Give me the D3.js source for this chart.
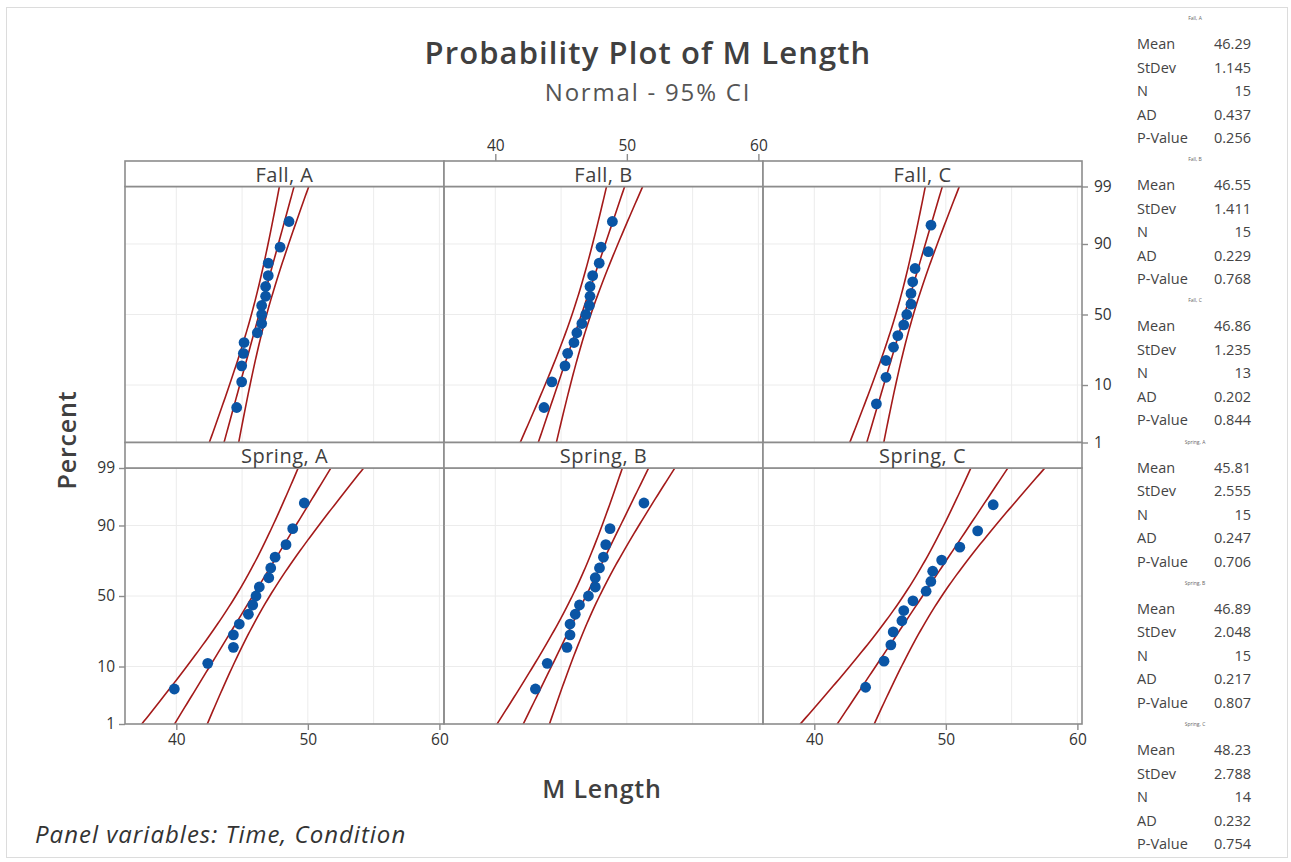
<!DOCTYPE html>
<html>
<head>
<meta charset="utf-8">
<script src="https://cdn.jsdelivr.net/npm/d3@7"></script>
<style>
body { margin: 0; background: #fff; }
text { font-family: "Open Sans", sans-serif; }
</style>
</head>
<body>
<svg id="chart" width="1291" height="862"></svg>
<script>
// panel variables
var times = ["Fall", "Spring"];
var conditions = ["A", "B", "C"];

var fallA = [44.59, 44.97, 44.97, 45.10, 45.15, 46.16, 46.49, 46.49, 46.49, 46.79, 46.79, 46.99, 46.99, 47.89, 48.57];
var fallB = [43.70, 44.30, 45.30, 45.50, 45.98, 46.20, 46.58, 46.88, 47.15, 47.20, 47.20, 47.40, 47.90, 48.04, 48.90];
var fallC = [44.72, 45.45, 45.45, 46.02, 46.35, 46.80, 47.03, 47.35, 47.35, 47.48, 47.66, 48.67, 48.87];
var springA = [39.85, 42.39, 44.34, 44.34, 44.79, 45.48, 45.81, 46.06, 46.31, 47.03, 47.18, 47.51, 48.34, 48.85, 49.73];
var springB = [43.05, 43.95, 45.45, 45.68, 45.68, 46.08, 46.40, 47.08, 47.60, 47.60, 47.92, 48.22, 48.40, 48.72, 51.30];
var springC = [43.90, 45.30, 45.82, 46.00, 46.66, 46.80, 47.50, 48.50, 48.86, 49.00, 49.68, 51.06, 52.42, 53.60];
var panelData = [fallA, fallB, fallC, springA, springB, springC];

// summary table
var means = [46.29, 46.55, 46.86, 45.81, 46.89, 48.23];
var stdevs = [1.145, 1.411, 1.235, 2.555, 2.048, 2.788];
var ns = [15, 15, 13, 15, 15, 14];
var ads = ["0.437", "0.229", "0.202", "0.247", "0.217", "0.232"];
var pvalues = ["0.256", "0.768", "0.844", "0.706", "0.807", "0.754"];
var statNames = ["Mean", "StDev", "N", "AD", "P-Value"];

// axes
var xTicks = [40, 50, 60];
var xGrid = [40, 45, 50, 55, 60];
var pTicks = [1, 10, 50, 90, 99];
var pGrid = [10, 50, 90];

// inverse standard normal (Acklam)
function qnorm(p) {
  var a = [-3.969683028665376e+01, 2.209460984245205e+02, -2.759285104469687e+02, 1.383577518672690e+02, -3.066479806614716e+01, 2.506628277459239e+00];
  var b = [-5.447609879822406e+01, 1.615858368580409e+02, -1.556989798598866e+02, 6.680131188771972e+01, -1.328068155288572e+01];
  var c = [-7.784894002430293e-03, -3.223964580411365e-01, -2.400758277161838e+00, -2.549732539343734e+00, 4.374664141464968e+00, 2.938163982698783e+00];
  var d = [7.784695709041462e-03, 3.224671290700398e-01, 2.445134137142996e+00, 3.754408661907416e+00];
  var pl = 0.02425, q, r;
  if (p < pl) {
    q = Math.sqrt(-2 * Math.log(p));
    return (((((c[0]*q+c[1])*q+c[2])*q+c[3])*q+c[4])*q+c[5]) / ((((d[0]*q+d[1])*q+d[2])*q+d[3])*q+1);
  }
  if (p > 1 - pl) {
    q = Math.sqrt(-2 * Math.log(1 - p));
    return -(((((c[0]*q+c[1])*q+c[2])*q+c[3])*q+c[4])*q+c[5]) / ((((d[0]*q+d[1])*q+d[2])*q+d[3])*q+1);
  }
  q = p - 0.5; r = q * q;
  return (((((a[0]*r+a[1])*r+a[2])*r+a[3])*r+a[4])*r+a[5])*q / (((((b[0]*r+b[1])*r+b[2])*r+b[3])*r+b[4])*r+1);
}

var svg = d3.select("#chart");
var gridLeft = 125, gridTop = 161;
var panelW = 319, stripH = 25.5, plotH = 256, rowH = stripH + plotH;
var frameCol = "#8c8c8c", textCol = "#404040";
var redCol = "#a41a1a", blueCol = "#0a55a5";

var x = d3.scaleLinear().domain([36.1, 60.35]).range([0, panelW]);
var zLo = qnorm(0.01), zHi = qnorm(0.99);
var y = d3.scaleLinear().domain([zLo, zHi]).range([plotH, 0]);

// outer border
svg.append("rect").attr("x", 6.5).attr("y", 7.5).attr("width", 1281).attr("height", 850)
  .attr("fill", "none").attr("stroke", "#dcdcdc");

// titles
svg.append("text").attr("x", 648).attr("y", 64).attr("text-anchor", "middle")
  .attr("font-size", 31).attr("font-weight", 600).attr("letter-spacing", 1.1).attr("fill", textCol)
  .text("Probability Plot of M Length");
svg.append("text").attr("x", 648).attr("y", 101).attr("text-anchor", "middle")
  .attr("font-size", 24).attr("letter-spacing", 1.8).attr("fill", "#555").text("Normal - 95% CI");
svg.append("text").attr("transform", "translate(76,440) rotate(-90)").attr("text-anchor", "middle")
  .attr("font-size", 25).attr("font-weight", 600).attr("letter-spacing", 0.8).attr("fill", textCol).text("Percent");
svg.append("text").attr("x", 602).attr("y", 798).attr("text-anchor", "middle")
  .attr("font-size", 25).attr("font-weight", 600).attr("letter-spacing", 0.8).attr("fill", textCol).text("M Length");
svg.append("text").attr("x", 35).attr("y", 843).attr("font-size", 24).attr("font-style", "italic")
  .attr("letter-spacing", 1).attr("fill", "#333").text("Panel variables: Time, Condition");

var defs = svg.append("defs");
var zSteps = d3.range(0, 81).map(function(k) { return zLo - 0.2 + (zHi - zLo + 0.4) * k / 80; });

panelData.forEach(function(vals, i) {
  var r = Math.floor(i / 3), c = i % 3;
  var px = gridLeft + c * panelW, py = gridTop + r * rowH;
  var g = svg.append("g").attr("transform", "translate(" + px + "," + py + ")");
  var pg = g.append("g").attr("transform", "translate(0," + stripH + ")");

  defs.append("clipPath").attr("id", "clip" + i).append("rect")
    .attr("width", panelW).attr("height", plotH);

  // grid
  pg.selectAll(".gx").data(xGrid).enter().append("line")
    .attr("x1", function(d) { return x(d); }).attr("x2", function(d) { return x(d); })
    .attr("y1", 0).attr("y2", plotH).attr("stroke", "#ececec");
  pg.selectAll(".gy").data(pGrid).enter().append("line")
    .attr("y1", function(d) { return y(qnorm(d / 100)); }).attr("y2", function(d) { return y(qnorm(d / 100)); })
    .attr("x1", 0).attr("x2", panelW).attr("stroke", "#ececec");

  // fit and 95% CI
  var mu = means[i], sd = stdevs[i], n = ns[i];
  var half = function(z) { return 1.96 * sd * Math.sqrt((1 + z * z / 2) / n); };
  var bands = [
    function(z) { return mu + sd * z - half(z); },
    function(z) { return mu + sd * z; },
    function(z) { return mu + sd * z + half(z); }
  ];
  var line = d3.line().x(function(d) { return x(d[0]); }).y(function(d) { return y(d[1]); });
  var cg = pg.append("g").attr("clip-path", "url(#clip" + i + ")");
  bands.forEach(function(f) {
    cg.append("path").datum(zSteps.map(function(z) { return [f(z), z]; }))
      .attr("d", line).attr("fill", "none").attr("stroke", redCol).attr("stroke-width", 1.6);
  });

  // points at median ranks
  var sorted = vals.slice().sort(d3.ascending);
  cg.selectAll("circle").data(sorted).enter().append("circle")
    .attr("cx", function(d) { return x(d); })
    .attr("cy", function(d, k) { return y(qnorm((k + 1 - 0.3) / (sorted.length + 0.4))); })
    .attr("r", 5.4).attr("fill", blueCol);

  // strip
  g.append("rect").attr("width", panelW).attr("height", stripH)
    .attr("fill", "#fff").attr("stroke", frameCol).attr("stroke-width", 1.6);
  g.append("text").attr("x", panelW / 2).attr("y", stripH - 5).attr("text-anchor", "middle")
    .attr("font-size", 20).attr("letter-spacing", 0.5).attr("fill", textCol).text(times[r] + ", " + conditions[c]);
  pg.append("rect").attr("width", panelW).attr("height", plotH)
    .attr("fill", "none").attr("stroke", frameCol).attr("stroke-width", 1.6);

  // alternating axes
  function styleAxis(a) {
    a.select(".domain").remove();
    a.selectAll(".tick line").attr("stroke", frameCol).attr("stroke-width", 1.4);
    a.selectAll(".tick text").attr("font-size", 15.5).attr("fill", "#333")
      .attr("font-family", "'Open Sans', sans-serif");
  }
  var pFmt = function(d) { return d3.format("d")(d); };
  if (r === 0 && c === 1) {
    g.append("g").call(d3.axisTop(x).tickValues(xTicks).tickSize(7).tickPadding(3)).call(styleAxis);
  }
  if (r === 1 && c !== 1) {
    pg.append("g").attr("transform", "translate(0," + plotH + ")")
      .call(d3.axisBottom(x).tickValues(xTicks).tickSize(6).tickPadding(4)).call(styleAxis);
  }
  var yAx = d3.scaleLinear().domain(y.domain()).range(y.range());
  if (r === 1 && c === 0) {
    pg.append("g").call(d3.axisLeft(yAx).tickValues(pTicks.map(function(p) { return qnorm(p / 100); }))
      .tickFormat(function(z, k) { return pFmt(pTicks[k]); }).tickSize(6).tickPadding(4)).call(styleAxis);
  }
  if (r === 0 && c === 2) {
    pg.append("g").attr("transform", "translate(" + panelW + ",0)")
      .call(d3.axisRight(yAx).tickValues(pTicks.map(function(p) { return qnorm(p / 100); }))
      .tickFormat(function(z, k) { return pFmt(pTicks[k]); }).tickSize(6).tickPadding(6)).call(styleAxis);
  }
});

// summary table on the right
var blockH = 141.2;
panelData.forEach(function(vals, i) {
  var by = 20 + i * blockH;
  var r = Math.floor(i / 3), c = i % 3;
  var sg = svg.append("g").attr("transform", "translate(0," + by + ")");
  sg.append("text").attr("x", 1195).attr("y", 0).attr("text-anchor", "middle")
    .attr("font-size", 5).attr("fill", "#666").text(times[r] + ", " + conditions[c]);
  var vs = [means[i].toFixed(2), stdevs[i].toFixed(3), String(ns[i]), ads[i], pvalues[i]];
  statNames.forEach(function(name, k) {
    var ty = 29 + k * 23.5;
    sg.append("text").attr("x", 1137).attr("y", ty).attr("font-size", 14.5).attr("fill", "#444").text(name);
    sg.append("text").attr("x", 1251).attr("y", ty).attr("text-anchor", "end")
      .attr("font-size", 14.5).attr("fill", "#444").text(vs[k]);
  });
});
</script>
</body>
</html>
